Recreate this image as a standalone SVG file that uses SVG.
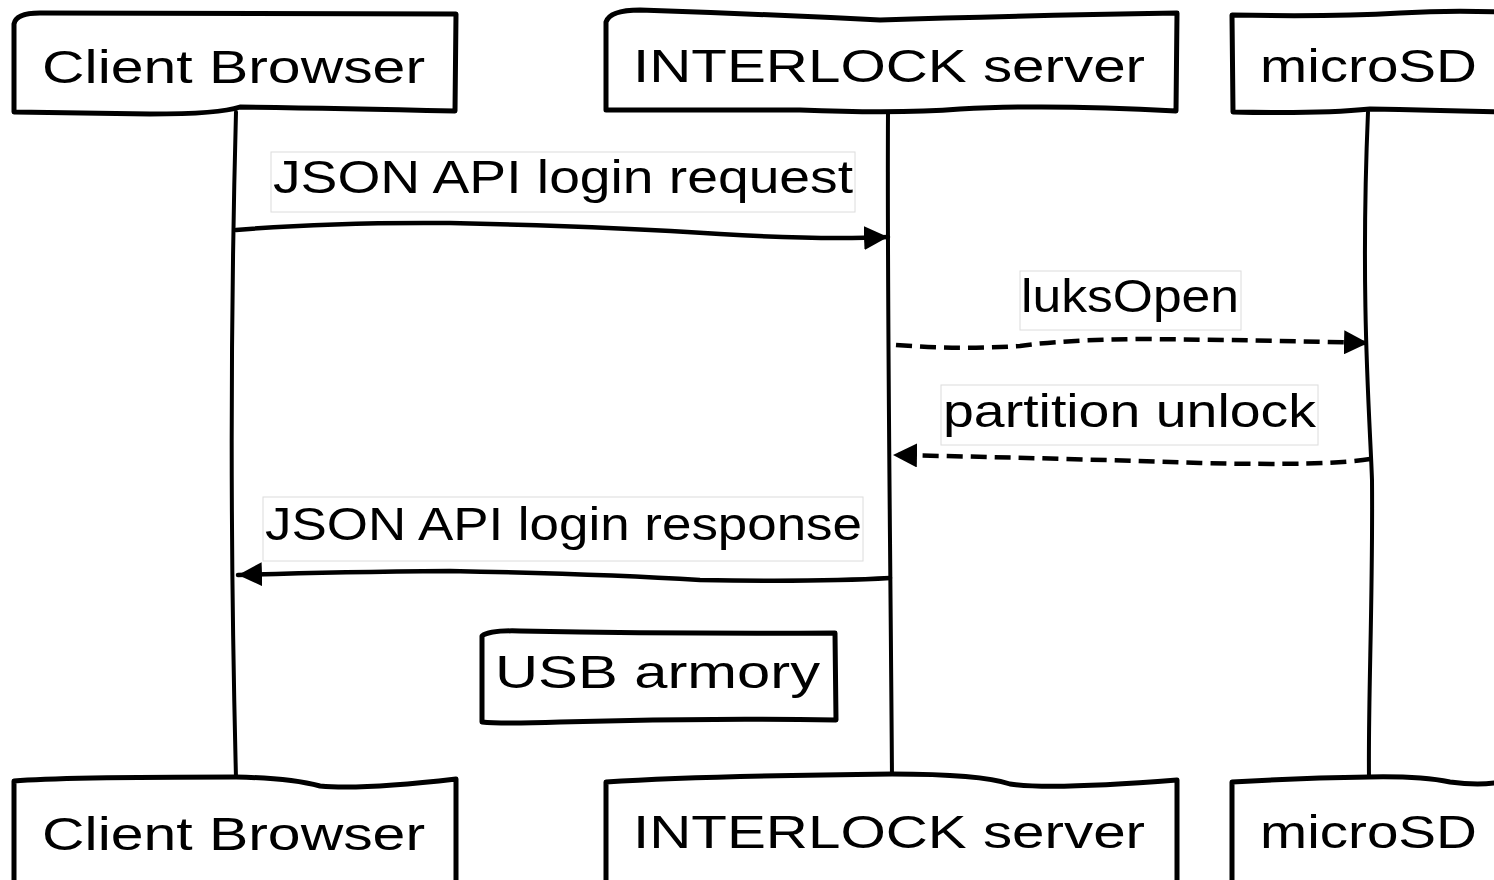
<svg xmlns="http://www.w3.org/2000/svg" width="1494" height="880" viewBox="0 0 1494 880">
<style>
.box{fill:#fff;stroke:#000;stroke-width:5;stroke-linejoin:round;stroke-linecap:round}
.life{fill:none;stroke:#000;stroke-width:4;stroke-linecap:round}
.msg{fill:none;stroke:#000;stroke-width:4.5;stroke-linecap:round}
.dash{stroke-dasharray:16 8;stroke-linecap:butt}
.lblbg{fill:#fff;stroke:#dcdcdc;stroke-width:1}
.t{font-family:"Liberation Sans","DejaVu Sans",sans-serif;fill:#000}
</style>
<defs>
<marker id="ah" viewBox="0 0 10 10" refX="10" refY="5" markerUnits="userSpaceOnUse" markerWidth="24" markerHeight="24" orient="auto">
<path d="M0,0 L10,5 L0,10 Z" fill="#000"/>
</marker>
</defs>
<rect width="1494" height="880" fill="#fff"/>

<g id="lifelines">
<path class="life" d="M236,112 C231,300 229,500 236,778"/>
<path class="life" d="M888,112 C887,300 890,500 892,778"/>
<path class="life" d="M1368,112 C1360,300 1370,420 1372,480 C1373,600 1368,700 1369,778"/>
</g>

<g id="client-top">
<path class="box" d="M14,24 Q16,13 40,13 Q250,14 456,14 L455,111 Q330,108 240,107 Q220,114 150,114 L14,112 Z"/>
<text class="t" x="42" y="83" font-size="46" textLength="383" lengthAdjust="spacingAndGlyphs">Client Browser</text>
</g>
<g id="interlock-top">
<path class="box" d="M606,22 Q610,10 640,10 Q760,14 880,20 Q1000,16 1177,13 L1176,111 Q1050,104 960,109 Q900,114 800,110 L606,110 Z"/>
<text class="t" x="633" y="82" font-size="46" textLength="512" lengthAdjust="spacingAndGlyphs">INTERLOCK server</text>
</g>
<g id="microsd-top">
<path class="box" d="M1232,15 Q1330,17 1400,13 Q1450,10 1500,12 L1500,112 Q1430,110 1370,109 Q1320,114 1233,112 Z"/>
<text class="t" x="1260" y="82" font-size="46" textLength="217" lengthAdjust="spacingAndGlyphs">microSD</text>
</g>

<g id="connectors">
<path class="msg" marker-end="url(#ah)" d="M236,230 Q330,222 450,223 Q600,226 720,234 Q820,240 888,237"/>
<path class="msg dash" marker-end="url(#ah)" d="M896,345 Q960,350 1020,346 Q1060,340 1140,339 Q1260,340 1368,343"/>
<path class="msg dash" marker-end="url(#ah)" d="M1370,459 Q1330,466 1200,463 Q1050,458 893,455"/>
<path class="msg" marker-end="url(#ah)" d="M890,578 Q820,582 700,580 Q600,574 450,571 Q330,572 238,575"/>
</g>

<g id="msg-login-request">
<rect class="lblbg" x="271" y="152" width="584" height="60"/>
<text class="t" x="273" y="193" font-size="46" textLength="580" lengthAdjust="spacingAndGlyphs">JSON API login request</text>
</g>
<g id="msg-luksopen">
<rect class="lblbg" x="1020" y="271" width="221" height="59"/>
<text class="t" x="1021" y="312" font-size="46" textLength="218" lengthAdjust="spacingAndGlyphs">luksOpen</text>
</g>
<g id="msg-partition-unlock">
<rect class="lblbg" x="941" y="385" width="377" height="60"/>
<text class="t" x="943" y="427" font-size="46" textLength="373" lengthAdjust="spacingAndGlyphs">partition unlock</text>
</g>
<g id="msg-login-response">
<rect class="lblbg" x="263" y="497" width="600" height="64"/>
<text class="t" x="265" y="540" font-size="46" textLength="597" lengthAdjust="spacingAndGlyphs">JSON API login response</text>
</g>

<g id="note-usb-armory">
<path class="box" d="M482,636 Q490,630 520,631 Q680,634 835,633 L836,720 Q700,718 560,722 Q500,724 482,722 Z"/>
<text class="t" x="495" y="688" font-size="46" textLength="325" lengthAdjust="spacingAndGlyphs">USB armory</text>
</g>

<g id="client-bottom">
<path class="box" d="M14,781 Q60,777 236,777 Q290,778 320,786 Q360,790 456,779 L456,884 L14,884 Z"/>
<text class="t" x="42" y="850" font-size="46" textLength="383" lengthAdjust="spacingAndGlyphs">Client Browser</text>
</g>
<g id="interlock-bottom">
<path class="box" d="M606,782 Q700,776 892,774 Q980,774 1010,784 Q1050,790 1177,780 L1177,884 L606,884 Z"/>
<text class="t" x="633" y="848" font-size="46" textLength="512" lengthAdjust="spacingAndGlyphs">INTERLOCK server</text>
</g>
<g id="microsd-bottom">
<path class="box" d="M1232,782 Q1300,778 1369,777 Q1420,776 1450,782 Q1480,786 1500,782 L1500,884 L1232,884 Z"/>
<text class="t" x="1260" y="848" font-size="46" textLength="217" lengthAdjust="spacingAndGlyphs">microSD</text>
</g>
</svg>
